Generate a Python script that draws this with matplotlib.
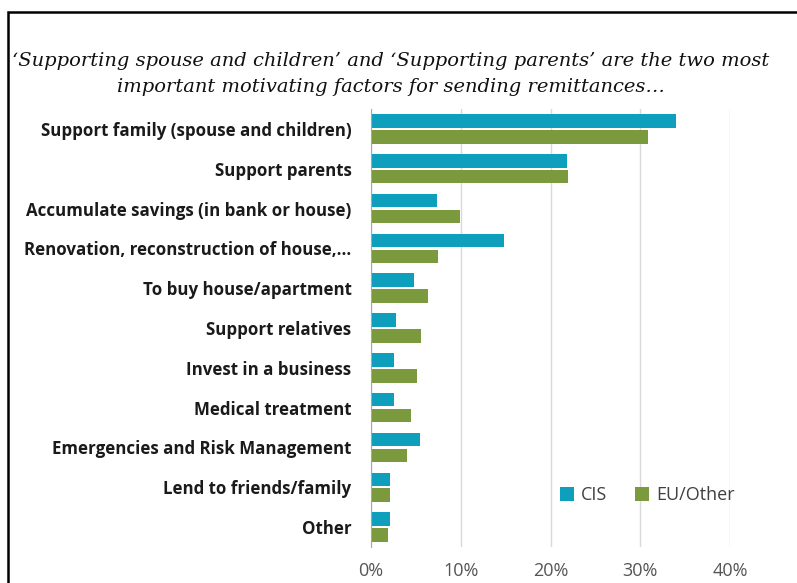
import numpy as np
import matplotlib.pyplot as plt
from matplotlib.patches import Rectangle
from matplotlib.ticker import PercentFormatter

categories = [
    "Support family (spouse and children)",
    "Support parents",
    "Accumulate savings (in bank or house)",
    "Renovation, reconstruction of house,...",
    "To buy house/apartment",
    "Support relatives",
    "Invest in a business",
    "Medical treatment",
    "Emergencies and Risk Management",
    "Lend to friends/family",
    "Other",
]
cis = [34, 21.8, 7.4, 14.8, 4.8, 2.8, 2.6, 2.6, 5.5, 2.1, 2.1]
eu_other = [30.9, 21.9, 9.9, 7.5, 6.4, 5.6, 5.1, 4.5, 4.0, 2.1, 1.9]

title = ("\u2018Supporting spouse and children\u2019 and \u2018Supporting parents\u2019 are the two most\n"
         "important motivating factors for sending remittances\u2026")

cis_color = "#0E9FBC"
eu_color = "#7A9A3D"


def main():
    fig = plt.figure(figsize=(7.97, 5.83), dpi=100)
    ax = fig.add_axes([371 / 797, 1 - 547 / 583, (730 - 371) / 797, 438 / 583])

    y = np.arange(len(categories))
    h = 0.34
    ax.barh(y - 0.2, cis, height=h, color=cis_color, label="CIS")
    ax.barh(y + 0.2, eu_other, height=h, color=eu_color, label="EU/Other")

    ax.set_xlim(0, 40)
    ax.set_ylim(len(categories) - 0.5, -0.5)
    ax.set_xticks([0, 10, 20, 30, 40])
    ax.xaxis.set_major_formatter(PercentFormatter(decimals=0))
    ax.set_yticks(y)
    ax.set_yticklabels(categories, fontsize=12.2, fontweight="bold",
                       family="Open Sans", color="#1a1a1a")
    ax.tick_params(axis="y", length=0, pad=14)
    ax.tick_params(axis="x", length=0, pad=11, labelsize=13, labelcolor="#555555")
    for lab in ax.get_xticklabels():
        lab.set_family("Open Sans")

    ax.grid(axis="x", color="#d9d9d9", linewidth=1)
    ax.set_axisbelow(True)
    for side in ["top", "right", "bottom"]:
        ax.spines[side].set_visible(False)
    ax.spines["left"].set_color("#a6a6a6")

    leg = ax.legend(loc="lower left", bbox_to_anchor=(0.48, 0.06), ncol=2, frameon=False,
                    handlelength=0.8, handleheight=0.8, handletextpad=0.4,
                    columnspacing=1.5, prop={"family": "Open Sans", "size": 13})
    for t in leg.get_texts():
        t.set_color("#404040")

    fig.text(0.5 * (10 + 772) / 797, 1 - 74 / 583, title, ha="center", va="center",
             fontsize=14, style="italic", family="DejaVu Serif",
             linespacing=1.55, color="#111111")

    # black frame around the slide
    fig.patches.append(Rectangle((8 / 797, -0.1), 1.2, 1 - 12 / 583 + 0.1,
                                 transform=fig.transFigure, fill=False,
                                 edgecolor="black", linewidth=1.8))

    plt.savefig("out.png", dpi=100)
    plt.close()


if __name__ == "__main__":
    main()
